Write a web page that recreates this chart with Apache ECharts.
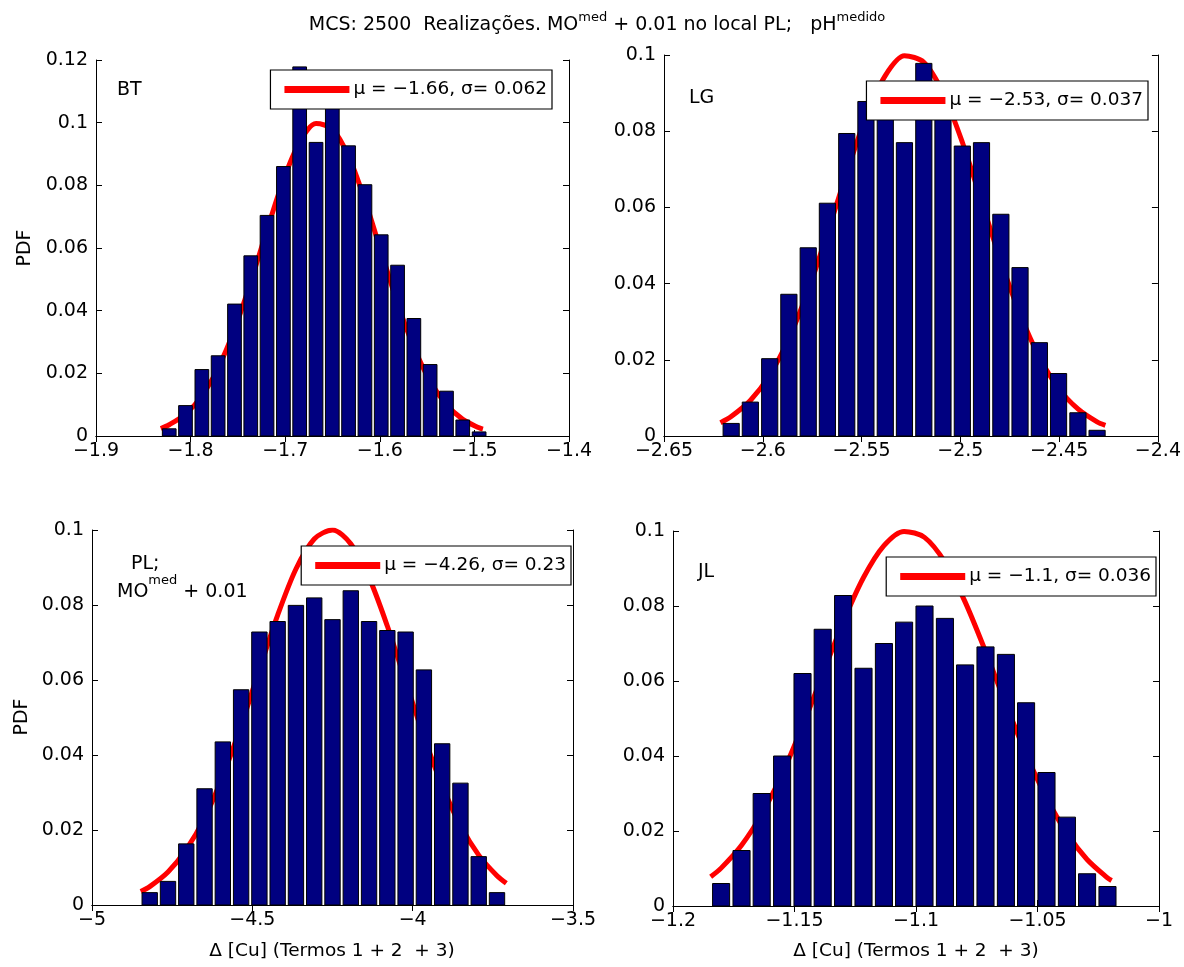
<!DOCTYPE html>
<html>
<head>
<meta charset="utf-8">
<script src="https://cdn.jsdelivr.net/npm/echarts@6/dist/echarts.min.js"></script>
<style>
  html, body { margin: 0; background: #fff; }
  #main { width: 1184px; height: 967px; }
</style>
</head>
<body>
<div id="main"></div>
<script>
// histogram bin centres and PDF heights
const btCenters = [-1.8226, -1.8054, -1.7881, -1.7709, -1.7536, -1.7364, -1.7192, -1.7019, -1.6847, -1.6674,
  -1.6502, -1.6330, -1.6157, -1.5985, -1.5812, -1.5640, -1.5468, -1.5295, -1.5123, -1.4950]
const btPdf = [0.0023, 0.0097, 0.0212, 0.0256, 0.0421, 0.0575, 0.0704, 0.0860, 0.1178, 0.0937,
  0.1070, 0.0926, 0.0802, 0.0642, 0.0545, 0.0375, 0.0228, 0.0143, 0.0051, 0.0013]
const btFitX = [-1.8315, -1.8226, -1.8054, -1.7881, -1.7709, -1.7536, -1.7364, -1.7192, -1.7019, -1.6847, -1.6674,
  -1.6502, -1.6330, -1.6157, -1.5985, -1.5812, -1.5640, -1.5468, -1.5295, -1.5123, -1.4950, -1.4910]
const btFitY = [0.0024, 0.0036, 0.0070, 0.0128, 0.0217, 0.0340, 0.0492, 0.0658, 0.0817, 0.0938, 0.0997,
  0.0980, 0.0893, 0.0752, 0.0587, 0.0423, 0.0283, 0.0175, 0.0100, 0.0053, 0.0026, 0.0022]

const lgCenters = [-2.6160, -2.6063, -2.5965, -2.5868, -2.5770, -2.5673, -2.5575, -2.5478, -2.5380, -2.5283,
  -2.5185, -2.5088, -2.4990, -2.4893, -2.4795, -2.4698, -2.4600, -2.4503, -2.4405, -2.4308]
const lgPdf = [0.0033, 0.0089, 0.0203, 0.0372, 0.0494, 0.0611, 0.0794, 0.0878, 0.0890, 0.0770,
  0.0978, 0.0870, 0.0761, 0.0770, 0.0582, 0.0442, 0.0245, 0.0164, 0.0061, 0.0015]
const lgFitX = [-2.6214, -2.6160, -2.6063, -2.5965, -2.5868, -2.5770, -2.5673, -2.5575, -2.5478, -2.5380, -2.5283,
  -2.5185, -2.5088, -2.4990, -2.4893, -2.4795, -2.4698, -2.4600, -2.4503, -2.4405, -2.4308, -2.4266]
const lgFitY = [0.0035, 0.0051, 0.0093, 0.0160, 0.0256, 0.0383, 0.0532, 0.0691, 0.0837, 0.0946, 0.0998,
  0.0981, 0.0901, 0.0771, 0.0616, 0.0458, 0.0320, 0.0207, 0.0125, 0.0071, 0.0037, 0.0028]

const plCenters = [-4.820, -4.763, -4.706, -4.649, -4.592, -4.535, -4.478, -4.421, -4.364, -4.307,
  -4.250, -4.193, -4.136, -4.079, -4.022, -3.965, -3.908, -3.851, -3.794, -3.737]
const plPdf = [0.0033, 0.0063, 0.0163, 0.0310, 0.0435, 0.0574, 0.0728, 0.0756, 0.0799, 0.0819,
  0.0761, 0.0838, 0.0756, 0.0732, 0.0728, 0.0627, 0.0430, 0.0325, 0.0129, 0.0033]
const plFitX = [-4.848, -4.820, -4.763, -4.706, -4.649, -4.592, -4.535, -4.478, -4.421, -4.364, -4.307,
  -4.250, -4.193, -4.136, -4.079, -4.022, -3.965, -3.908, -3.851, -3.794, -3.737, -3.708]
const plFitY = [0.0036, 0.0049, 0.0088, 0.0148, 0.0232, 0.0344, 0.0479, 0.0628, 0.0773, 0.0896, 0.0976,
  0.1000, 0.0963, 0.0873, 0.0744, 0.0596, 0.0449, 0.0318, 0.0212, 0.0133, 0.0078, 0.0058]

const jlCenters = [-1.1802, -1.1718, -1.1635, -1.1551, -1.1467, -1.1384, -1.1300, -1.1216, -1.1132, -1.1049,
  -1.0965, -1.0881, -1.0798, -1.0714, -1.0630, -1.0547, -1.0463, -1.0379, -1.0296, -1.0212]
const jlPdf = [0.0060, 0.0148, 0.0300, 0.0400, 0.0620, 0.0738, 0.0828, 0.0634, 0.0700, 0.0757,
  0.0800, 0.0767, 0.0643, 0.0691, 0.0671, 0.0542, 0.0356, 0.0237, 0.0086, 0.0052]
const jlFitX = [-1.1845, -1.1802, -1.1718, -1.1635, -1.1551, -1.1467, -1.1384, -1.1300, -1.1216, -1.1132, -1.1049,
  -1.0965, -1.0881, -1.0798, -1.0714, -1.0630, -1.0547, -1.0463, -1.0379, -1.0296, -1.0212, -1.0195]
const jlFitY = [0.0078, 0.0101, 0.0162, 0.0245, 0.0352, 0.0480, 0.0618, 0.0757, 0.0876, 0.0961, 0.0999,
  0.0983, 0.0917, 0.0811, 0.0679, 0.0538, 0.0405, 0.0288, 0.0194, 0.0124, 0.0075, 0.0068]

// axis ranges and legend texts
const xRanges = [[-1.9, -1.4, 0.1], [-2.65, -2.4, 0.05], [-5, -3.5, 0.5], [-1.2, -1, 0.05]]
const yMaxes = [0.12, 0.1, 0.1, 0.1]
const fitNames = ['μ = −1.66, σ= 0.062', 'μ = −2.53, σ= 0.037', 'μ = −4.26, σ= 0.23', 'μ = −1.1, σ= 0.036']

const panels = [
  { centers: btCenters, pdf: btPdf, fitX: btFitX, fitY: btFitY },
  { centers: lgCenters, pdf: lgPdf, fitX: lgFitX, fitY: lgFitY },
  { centers: plCenters, pdf: plPdf, fitX: plFitX, fitY: plFitY },
  { centers: jlCenters, pdf: jlPdf, fitX: jlFitX, fitY: jlFitY },
]

// pixel layout of the four axes boxes
const boxes = [
  { left: 96, top: 60, width: 473, height: 376, legRight: 632, legTop: 70 },
  { left: 664, top: 55, width: 496, height: 381, legRight: 36, legTop: 81 },
  { left: 92, top: 530, width: 481, height: 375, legRight: 613, legTop: 546 },
  { left: 673, top: 531, width: 486, height: 375, legRight: 28, legTop: 557 },
]

const FONT = 'DejaVu Sans'
const BAR_FILL = 0.84

const fmt = v => String(+(+v).toFixed(3)).replace('-', '\u2212')

const chart = echarts.init(document.getElementById('main'))

const grid = [], xAxis = [], yAxis = [], series = [], legend = []

panels.forEach((p, i) => {
  const b = boxes[i]
  const [xmin, xmax, xint] = xRanges[i]
  grid.push({ left: b.left, top: b.top, width: b.width, height: b.height, containLabel: false })

  const line = { show: true, lineStyle: { color: '#000', width: 1 } }
  const tick = { show: true, inside: true, length: 6, lineStyle: { color: '#000', width: 1 } }

  xAxis.push({
    gridIndex: i, type: 'value', position: 'bottom', min: xmin, max: xmax, interval: xint,
    axisLine: line, axisTick: tick, splitLine: { show: false },
    axisLabel: { formatter: fmt, fontFamily: FONT, fontSize: 19, color: '#000', margin: 6 },
  })
  xAxis.push({
    gridIndex: i, type: 'value', position: 'top', min: xmin, max: xmax, interval: xint,
    axisLine: line, axisTick: tick, splitLine: { show: false }, axisLabel: { show: false },
  })
  yAxis.push({
    gridIndex: i, type: 'value', position: 'left', min: 0, max: yMaxes[i], interval: 0.02,
    axisLine: line, axisTick: tick, splitLine: { show: false },
    axisLabel: { formatter: fmt, fontFamily: FONT, fontSize: 19, color: '#000', margin: 8 },
  })
  yAxis.push({
    gridIndex: i, type: 'value', position: 'right', min: 0, max: yMaxes[i], interval: 0.02,
    axisLine: line, axisTick: tick, splitLine: { show: false }, axisLabel: { show: false },
  })

  // fitted normal curve, under the bars
  series.push({
    name: fitNames[i],
    type: 'line',
    xAxisIndex: 2 * i, yAxisIndex: 2 * i,
    data: p.fitX.map((x, j) => [x, p.fitY[j]]),
    smooth: 0.3,
    showSymbol: false,
    lineStyle: { color: '#ff0000', width: 5 },
    itemStyle: { color: '#ff0000' },
    z: 1,
  })

  const n = p.centers.length
  const step = (p.centers[n - 1] - p.centers[0]) / (n - 1)
  series.push({
    type: 'custom',
    xAxisIndex: 2 * i, yAxisIndex: 2 * i,
    data: p.centers.map((c, j) => [c, p.pdf[j]]),
    z: 2,
    renderItem: (params, api) => {
      const x = api.value(0)
      const y = api.value(1)
      const half = step * BAR_FILL / 2
      const a = api.coord([x - half, y])
      const c = api.coord([x + half, 0])
      return {
        type: 'rect',
        shape: { x: a[0], y: a[1], width: c[0] - a[0], height: c[1] - a[1] },
        style: { fill: '#000080', stroke: '#000', lineWidth: 1 },
      }
    },
  })

  legend.push({
    data: [fitNames[i]],
    right: b.legRight, top: b.legTop,
    orient: 'horizontal',
    selectedMode: false,
    icon: 'rect',
    itemWidth: 65, itemHeight: 7,
    padding: [10, 5, 10, 14],
    backgroundColor: '#fff',
    borderColor: '#000', borderWidth: 1.2, borderRadius: 0,
    textStyle: { fontFamily: FONT, fontSize: 18.5, color: '#000', padding: [0, 0, 0, -1] },
  })
})

// superscripts: normal tokens sit at the bottom of a tall line, sup tokens at its top
const supRich = {
  n: { fontFamily: FONT, fontSize: 19, lineHeight: 27, verticalAlign: 'bottom', color: '#000' },
  s: { fontFamily: FONT, fontSize: 13, lineHeight: 14, verticalAlign: 'top', color: '#000' },
}
const titleRich = {
  n: { fontFamily: FONT, fontSize: 19, lineHeight: 24, verticalAlign: 'bottom', color: '#000' },
  s: { fontFamily: FONT, fontSize: 13, lineHeight: 13, verticalAlign: 'top', color: '#000' },
}

const txt = (x, y, text, extra) => ({
  type: 'text', x, y, silent: true,
  style: Object.assign({ text, fontFamily: FONT, fontSize: 19, fill: '#000',
    textAlign: 'left', textVerticalAlign: 'middle' }, extra || {}),
})

const graphic = [
  txt(597, 23, '{n|MCS: 2500  Realizações. MO}{s|med}{n| + 0.01 no local PL;   pH}{s|medido}',
    { textAlign: 'center', rich: titleRich }),
  txt(117, 90, 'BT'),
  txt(689, 98, 'LG'),
  txt(131, 564, 'PL;'),
  txt(117, 588, '{n|MO}{s|med}{n| + 0.01}', { rich: supRich }),
  txt(698, 572, 'JL'),
  Object.assign(txt(25, 248, 'PDF', { textAlign: 'center' }), { rotation: Math.PI / 2 }),
  Object.assign(txt(22, 717, 'PDF', { textAlign: 'center' }), { rotation: Math.PI / 2 }),
  txt(332, 951, 'Δ [Cu] (Termos 1 + 2  + 3)', { textAlign: 'center', fontSize: 18.5 }),
  txt(916, 951, 'Δ [Cu] (Termos 1 + 2  + 3)', { textAlign: 'center', fontSize: 18.5 }),
]

const option = {
  backgroundColor: '#fff',
  animation: false,
  grid, xAxis, yAxis, series, legend, graphic,
}

option && chart.setOption(option)
</script>
</body>
</html>
